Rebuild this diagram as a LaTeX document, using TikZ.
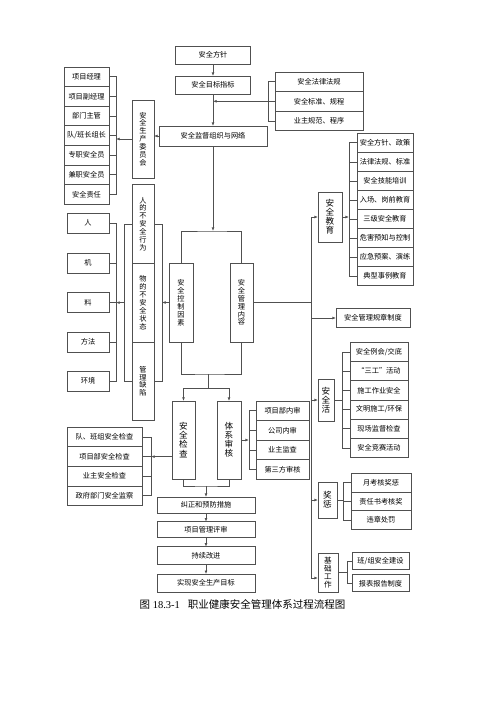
\documentclass[tikz,border=0pt]{standalone}
\usepackage{fontspec}
\setmainfont{Liberation Serif}
\newfontfamily\cjk{Noto Sans CJK SC}
\usetikzlibrary{positioning}
\usetikzlibrary{calc}
\usetikzlibrary{arrows.meta}
\definecolor{linegray}{RGB}{80,80,80}

\begin{document}
\begin{tikzpicture}[
        x=1pt, y=-1pt,
        box/.style={draw=linegray, line width=0.7pt, fill=white, inner sep=0.5pt,
                    outer sep=0pt, align=center, font=\cjk\fontsize{7.2}{8}\selectfont},
        item/.style={box, minimum height=19.6pt},
        vbox/.style={box, inner sep=0pt, font=\cjk\fontsize{7.2}{7.9}\selectfont},
        vboxbig/.style={box, inner sep=0pt, font=\cjk\fontsize{8.6}{9.1}\selectfont},
        line/.style={draw=linegray, line width=0.7pt},
        arrow/.style={-{Latex[length=3.6pt, width=2.8pt]}, line}
    ]
        \useasboundingbox (0,0) rectangle (500,707);

        \node[box, minimum width=75pt, minimum height=18pt] (policy) at (213,55) {安全方针};
        \node[box, minimum width=75pt, minimum height=18pt] (target) at (213,85) {安全目标指标};
        \node[box, minimum width=108pt, minimum height=20pt] (network) at (213,136) {安全监督组织与网络};

        \node[item, minimum width=88pt] (law1) at (319,81.7) {安全法律法规};
        \node[item, minimum width=88pt, below=0pt of law1] (law2) {安全标准、规程};
        \node[item, minimum width=88pt, below=0pt of law2] (law3) {业主规范、程序};

        \node[item, minimum width=45pt] (staff1) at (86.5,76.8) {项目经理};
        \node[item, minimum width=45pt, below=0pt of staff1] (staff2) {项目副经理};
        \node[item, minimum width=45pt, below=0pt of staff2] (staff3) {部门主管};
        \node[item, minimum width=45pt, below=0pt of staff3] (staff4) {队/班长组长};
        \node[item, minimum width=45pt, below=0pt of staff4] (staff5) {专职安全员};
        \node[item, minimum width=45pt, below=0pt of staff5] (staff6) {兼职安全员};
        \node[item, minimum width=45pt, below=0pt of staff6] (staff7) {安全责任};
        \node[vbox, minimum width=22pt, minimum height=78pt] (committee) at (143,139) {安\\全\\生\\产\\委\\员\\会};

        \node[vbox, minimum width=22pt, minimum height=78.6pt] (behav) at (143,224) {人\\的\\不\\安\\全\\行\\为};
        \node[vbox, minimum width=22pt, minimum height=78.6pt, below=0pt of behav] (state) {物\\的\\不\\安\\全\\状\\态};
        \node[vbox, minimum width=22pt, minimum height=78.6pt, below=0pt of state] (defect) {管\\理\\缺\\陷};

        \node[box, minimum width=42pt, minimum height=20pt] (man) at (88,223) {人};
        \node[box, minimum width=42pt, minimum height=20pt] (machine) at (88,263) {机};
        \node[box, minimum width=42pt, minimum height=20pt] (material) at (88,302.5) {料};
        \node[box, minimum width=42pt, minimum height=20pt] (method) at (88,342) {方法};
        \node[box, minimum width=42pt, minimum height=20pt] (env) at (88,381) {环境};

        \node[vbox, minimum width=24pt, minimum height=79pt] (control) at (181,302.5) {安\\全\\控\\制\\因\\素};
        \node[vbox, minimum width=23pt, minimum height=79pt] (content) at (241.5,302.5) {安\\全\\管\\理\\内\\容};

        \node[vboxbig, minimum width=23pt, minimum height=78pt] (check) at (183.5,440) {安\\全\\检\\查};
        \node[vboxbig, minimum width=24pt, minimum height=78pt] (audit) at (229,440) {体\\系\\审\\核};

        \node[item, minimum width=75pt] (chk1) at (104.5,437) {队、班组安全检查};
        \node[item, minimum width=75pt, below=0pt of chk1] (chk2) {项目部安全检查};
        \node[item, minimum width=75pt, below=0pt of chk2] (chk3) {业主安全检查};
        \node[item, minimum width=75pt, below=0pt of chk3] (chk4) {政府部门安全监察};

        \node[item, minimum width=53pt] (aud1) at (282.5,410.7) {项目部内审};
        \node[item, minimum width=53pt, below=0pt of aud1] (aud2) {公司内审};
        \node[item, minimum width=53pt, below=0pt of aud2] (aud3) {业主监查};
        \node[item, minimum width=53pt, below=0pt of aud3] (aud4) {第三方审核};

        \node[box, minimum width=98pt, minimum height=16pt] (correct) at (206,505) {纠正和预防措施};
        \node[box, minimum width=98pt, minimum height=16pt] (review) at (206,529.7) {项目管理评审};
        \node[box, minimum width=98pt, minimum height=17.5pt] (improve) at (206,555.5) {持续改进};
        \node[box, minimum width=98pt, minimum height=17.7pt] (goal) at (206,583) {实现安全生产目标};

        \node[vboxbig, minimum width=24pt, minimum height=50pt] (edu) at (330,217) {安\\全\\教\\育};
        \node[item, minimum width=56pt, minimum height=19.05pt] (edu1) at (385,142.8) {安全方针、政策};
        \node[item, minimum width=56pt, minimum height=19.05pt, below=0pt of edu1] (edu2) {法律法规、标准};
        \node[item, minimum width=56pt, minimum height=19.05pt, below=0pt of edu2] (edu3) {安全技能培训};
        \node[item, minimum width=56pt, minimum height=19.05pt, below=0pt of edu3] (edu4) {入场、岗前教育};
        \node[item, minimum width=56pt, minimum height=19.05pt, below=0pt of edu4] (edu5) {三级安全教育};
        \node[item, minimum width=56pt, minimum height=19.05pt, below=0pt of edu5] (edu6) {危害预知与控制};
        \node[item, minimum width=56pt, minimum height=19.05pt, below=0pt of edu6] (edu7) {应急预案、演练};
        \node[item, minimum width=56pt, minimum height=19.05pt, below=0pt of edu7] (edu8) {典型事例教育};

        \node[box, minimum width=74pt, minimum height=19pt] (rules) at (373,318) {安全管理规章制度};

        \node[vboxbig, minimum width=16pt, minimum height=42pt] (act) at (326,400) {安\\全\\活};
        \node[item, minimum width=58pt, minimum height=19.2pt] (act1) at (379,351.9) {安全例会/交底};
        \node[item, minimum width=58pt, minimum height=19.2pt, below=0pt of act1] (act2) {“三工”活动};
        \node[item, minimum width=58pt, minimum height=19.2pt, below=0pt of act2] (act3) {施工作业安全};
        \node[item, minimum width=58pt, minimum height=19.2pt, below=0pt of act3] (act4) {文明施工/环保};
        \node[item, minimum width=58pt, minimum height=19.2pt, below=0pt of act4] (act5) {现场监督检查};
        \node[item, minimum width=58pt, minimum height=19.2pt, below=0pt of act5] (act6) {安全竞赛活动};

        \node[vboxbig, minimum width=19pt, minimum height=36pt] (reward) at (327.5,500) {奖\\惩};
        \node[item, minimum width=60pt, minimum height=18.7pt] (rw1) at (381,482.7) {月考核奖惩};
        \node[item, minimum width=60pt, minimum height=18.7pt, below=0pt of rw1] (rw2) {责任书考核奖};
        \node[item, minimum width=60pt, minimum height=18.7pt, below=0pt of rw2] (rw3) {违章处罚};

        \node[vbox, minimum width=20pt, minimum height=39pt, font=\cjk\fontsize{7.6}{8.1}\selectfont] (base) at (328,572.5) {基\\础\\工\\作};
        \node[box, minimum width=57pt, minimum height=17pt] (bs1) at (380.5,561) {班/组安全建设};
        \node[box, minimum width=57pt, minimum height=17pt] (bs2) at (380.5,583.3) {报表报告制度};

        \node[font=\fontsize{10.5}{12}\selectfont] (caption) at (242.5,604) {{\cjk 图} 18.3-1\hspace{8pt}{\cjk 职业健康安全管理体系过程流程图}};

        \coordinate (split1) at (213,231);
        \coordinate (merge1) at (208,374);
        \coordinate (split2) at (208,388);
        \coordinate (merge2) at (206,486);
        \coordinate (spinetop) at (311,217);
        \coordinate (spinebot) at (311,578);

        \draw[arrow] (policy) -- (target);
        \draw[arrow] (target) -- (network);
        \draw[line] (law1.west) -- ++(-7,0) |- (law3.west) (law2.west) -- ++(-7,0);
        \draw[arrow] ($(law2.west)+(-7,0)$) -- (law2.west -| target.south);

        \draw[arrow] (network.west) -- (network.west -| committee.east);
        \draw[line] (staff1.east) -- ++(7,0) |- (staff7.east) (staff2.east) -- ++(7,0)
            (staff3.east) -- ++(7,0) (staff4.east) -- ++(7,0) (staff5.east) -- ++(7,0) (staff6.east) -- ++(7,0);
        \draw[arrow] (committee.west) -- ($(committee.west -| staff1.east)+(7,0)$);

        \draw[arrow] (network) -- (split1);
        \draw[line] (control.north) |- (split1) -| (content.north);
        \draw[line] (control.south) |- (merge1) -| (content.south);
        \draw[line] (merge1) -- (split2);
        \draw[arrow] (split2) -| (check.north);
        \draw[arrow] (split2) -| (audit.north);

        \draw[line] (behav.east) -- ++(8,0) |- (defect.east);
        \draw[line] (behav.west) -- ++(-8,0) |- (defect.west);
        \draw[arrow] (control.west) -- ++(-7,0);
        \draw[arrow] ($(state.west)+(-8,0)$) -- ++(-8,0);
        \draw[line] (man.east) -- ++(7,0) |- (env.east) (machine.east) -- ++(7,0)
            (material.east) -- ++(7,0) (method.east) -- ++(7,0);

        \draw[line] (chk1.east) -- ++(9,0) |- (chk4.east) (chk2.east) -- ++(9,0) (chk3.east) -- ++(9,0);
        \draw[arrow] (check.west |- chk2.east) -- ($(chk2.east)+(9,0)$);
        \draw[line] (aud1.west) -- ++(-7,0) |- (aud4.west) (aud2.west) -- ++(-7,0) (aud3.west) -- ++(-7,0);
        \draw[arrow] (audit.east) -- ++(8,0);

        \draw[line] (check.south) |- (merge2) -| (audit.south);
        \draw[arrow] (merge2) -- (correct);
        \draw[arrow] (correct) -- (review);
        \draw[arrow] (review) -- (improve);
        \draw[arrow] (improve) -- (goal);

        \draw[line] (spinetop) -- (spinebot);
        \draw[line] (content.east) -- (content.east -| spinetop);
        \draw[arrow] (spinetop) -- (edu.west);
        \draw[arrow] (rules.west -| spinetop) -- (rules.west);
        \draw[arrow] (act.west -| spinetop) -- (act.west);
        \draw[arrow] (reward.west -| spinetop) -- (reward.west);
        \draw[arrow] (spinebot) -- (spinebot -| base.west);

        \draw[line] (edu1.west) -- ++(-8,0) |- (edu8.west) (edu2.west) -- ++(-8,0) (edu3.west) -- ++(-8,0)
            (edu4.west) -- ++(-8,0) (edu5.west) -- ++(-8,0) (edu6.west) -- ++(-8,0) (edu7.west) -- ++(-8,0);
        \draw[arrow] (edu.east) -- ++(7,0);
        \draw[line] (act1.west) -- ++(-8,0) |- (act6.west) (act2.west) -- ++(-8,0) (act3.west) -- ++(-8,0)
            (act4.west) -- ++(-8,0) (act5.west) -- ++(-8,0);
        \draw[line] (act.east) -- ++(8,0);
        \draw[line] (rw1.west) -- ++(-8,0) |- (rw3.west) (rw2.west) -- ++(-8,0);
        \draw[line] (reward.east) -- ++(6,0);
        \draw[line] (bs1.west) -- ++(-5,0) |- (bs2.west);
        \draw[line] (base.east) -- ++(9,0);
    \end{tikzpicture}
\end{document}
